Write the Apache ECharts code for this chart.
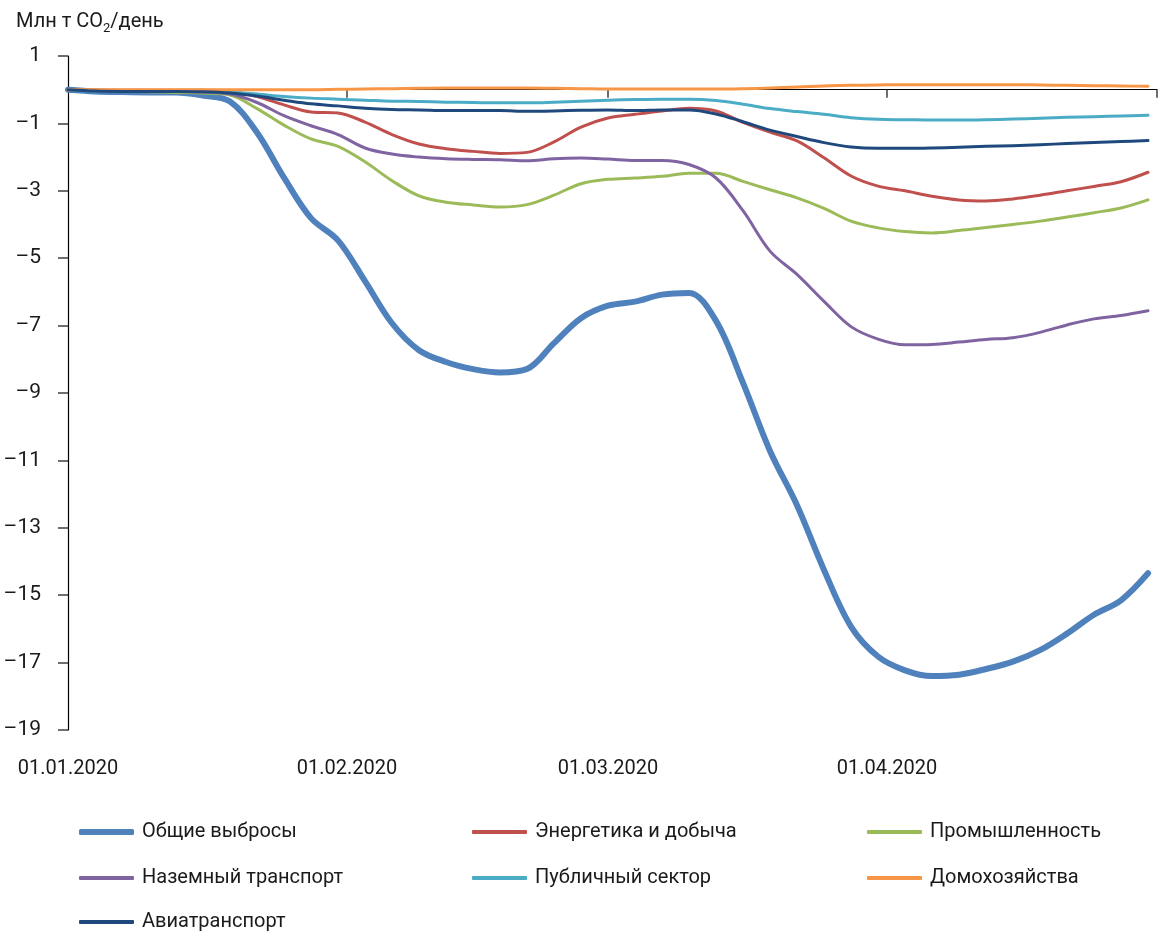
<!DOCTYPE html>
<html>
<head>
<meta charset="utf-8">
<script src="https://cdn.jsdelivr.net/npm/echarts@6/dist/echarts.min.js"></script>
<style>
  html, body { margin: 0; padding: 0; background: #fff; }
  #chart { width: 1161px; height: 933px; }
</style>
</head>
<body>
<div id="chart"></div>
<script>
// ---- Data (Mt CO2 per day, change vs. baseline) ----
const dates = [
  '2020-01-01','2020-01-04','2020-01-07','2020-01-10','2020-01-13','2020-01-16','2020-01-19',
  '2020-01-22','2020-01-25','2020-01-28','2020-01-31','2020-02-03','2020-02-06','2020-02-09',
  '2020-02-12','2020-02-15','2020-02-18','2020-02-21','2020-02-24','2020-02-27','2020-03-01',
  '2020-03-04','2020-03-07','2020-03-10','2020-03-13','2020-03-16','2020-03-19','2020-03-22',
  '2020-03-25','2020-03-28','2020-03-31','2020-04-03','2020-04-06','2020-04-09','2020-04-12',
  '2020-04-15','2020-04-18','2020-04-21','2020-04-24','2020-04-27','2020-04-30'
];
const seriesNames = ['Общие выбросы','Энергетика и добыча','Промышленность','Наземный транспорт','Публичный сектор','Домохозяйства','Авиатранспорт'];
const total = [0,-0.05,-0.07,-0.08,-0.08,-0.17,-0.35,-1.27,-2.61,-3.81,-4.47,-5.68,-6.93,-7.73,-8.08,-8.29,-8.39,-8.29,-7.52,-6.78,-6.41,-6.29,-6.08,-6.03,-6.86,-8.70,-10.72,-12.33,-14.25,-15.93,-16.82,-17.23,-17.40,-17.36,-17.19,-16.97,-16.63,-16.14,-15.58,-15.15,-14.35];
const energy = [0,-0.02,-0.02,-0.02,-0.02,-0.02,-0.05,-0.20,-0.45,-0.66,-0.69,-0.96,-1.33,-1.61,-1.75,-1.83,-1.89,-1.86,-1.55,-1.11,-0.84,-0.73,-0.63,-0.55,-0.63,-0.97,-1.26,-1.52,-2.02,-2.56,-2.86,-3.00,-3.16,-3.27,-3.30,-3.24,-3.13,-3.00,-2.87,-2.73,-2.45];
const industry = [0,-0.03,-0.05,-0.06,-0.08,-0.10,-0.16,-0.56,-1.05,-1.46,-1.68,-2.14,-2.70,-3.15,-3.34,-3.42,-3.48,-3.41,-3.13,-2.79,-2.66,-2.62,-2.57,-2.48,-2.48,-2.72,-2.97,-3.21,-3.52,-3.90,-4.10,-4.21,-4.25,-4.18,-4.09,-4.00,-3.90,-3.78,-3.65,-3.51,-3.27];
const ground = [0,-0.02,-0.03,-0.04,-0.05,-0.07,-0.13,-0.38,-0.77,-1.07,-1.33,-1.73,-1.91,-2.00,-2.05,-2.07,-2.08,-2.11,-2.05,-2.03,-2.06,-2.10,-2.10,-2.22,-2.62,-3.59,-4.79,-5.48,-6.28,-7.03,-7.40,-7.57,-7.56,-7.49,-7.41,-7.36,-7.20,-6.98,-6.80,-6.70,-6.56];
const publicSector = [0,-0.04,-0.04,-0.04,-0.04,-0.05,-0.07,-0.13,-0.20,-0.25,-0.28,-0.31,-0.34,-0.35,-0.37,-0.38,-0.39,-0.39,-0.37,-0.34,-0.31,-0.29,-0.28,-0.28,-0.32,-0.43,-0.56,-0.65,-0.73,-0.83,-0.88,-0.89,-0.90,-0.90,-0.89,-0.87,-0.85,-0.82,-0.80,-0.78,-0.76];
const households = [0,0,0,0,0,0,0,0,0,0,0.01,0.02,0.03,0.04,0.05,0.05,0.05,0.05,0.04,0.03,0.02,0.02,0.02,0.02,0.02,0.03,0.05,0.08,0.11,0.13,0.14,0.15,0.15,0.15,0.15,0.15,0.14,0.13,0.12,0.11,0.10];
const aviation = [0,-0.04,-0.05,-0.05,-0.05,-0.06,-0.10,-0.19,-0.31,-0.42,-0.48,-0.55,-0.59,-0.60,-0.62,-0.62,-0.62,-0.64,-0.63,-0.61,-0.60,-0.62,-0.60,-0.60,-0.72,-0.95,-1.20,-1.39,-1.57,-1.70,-1.74,-1.74,-1.73,-1.71,-1.68,-1.66,-1.63,-1.60,-1.57,-1.54,-1.51];

const xLabelDates = ['2020-01-01','2020-02-01','2020-03-01','2020-04-01'];
const xTickDates = ['2020-02-01','2020-03-01','2020-04-01','2020-05-01'];
const xMin = '2020-01-01', xMax = '2020-05-01';
const yTicks = [1,-1,-3,-5,-7,-9,-11,-13,-15,-17,-19];
const yTitle = 'Млн т CO{sub|2}/день';

// ---- Styles ----
const FONT = "Roboto,'Liberation Sans',sans-serif";
const FS = 20;
const TXT = '#1a1a1a';
const colors = ['#4F81BD','#C0504D','#9BBB59','#8064A2','#4BACC6','#F79646','#1F497D'];
const widths = [6,3,3,3,3,3,3];
const valuesList = [total, energy, industry, ground, publicSector, households, aviation];
const legendPos = [[79,821],[472,821],[867,821],[79,867],[472,867],[867,867],[79,911]];

// x scale = days since xMin (converted via Date, scaled by the value axis)
const DAY = 86400000;
function ts(s) { const p = s.split('-'); return Date.UTC(+p[0], +p[1]-1, +p[2]); }
function dayOf(s) { return Math.round((ts(s) - ts(xMin)) / DAY); }
function pad(n) { return (n < 10 ? '0' : '') + n; }
function fmtDay(v) { const d = new Date(ts(xMin) + v * DAY); return pad(d.getUTCDate()) + '.' + pad(d.getUTCMonth()+1) + '.' + d.getUTCFullYear(); }

const chart = echarts.init(document.getElementById('chart'), null, { renderer: 'canvas' });

const series = seriesNames.map((name, i) => ({
  name: name,
  type: 'line',
  xAxisIndex: 0,
  data: dates.map((d, k) => [dayOf(d), valuesList[i][k]]),
  smooth: 0.35,
  showSymbol: false,
  symbol: 'none',
  lineStyle: { color: colors[i], width: widths[i], cap: 'round', join: 'round' },
  itemStyle: { color: colors[i] },
  z: 2 + i
}));

const legends = seriesNames.map((name, i) => ({
  data: [name],
  left: legendPos[i][0],
  top: legendPos[i][1],
  orient: 'horizontal',
  padding: 0,
  itemGap: 0,
  itemWidth: 55,
  itemHeight: i === 0 ? 6 : 4,
  icon: 'roundRect',
  selectedMode: false,
  textStyle: { fontFamily: FONT, fontSize: FS, color: TXT, lineHeight: 22, padding: [0,0,0,3] }
}));

chart.setOption({
  animation: false,
  backgroundColor: '#fff',
  textStyle: { fontFamily: FONT },
  title: {
    text: yTitle,
    left: 16,
    top: 9,
    padding: 0,
    textStyle: {
      fontFamily: FONT, fontSize: FS, fontWeight: 'normal', color: TXT, lineHeight: 26,
      rich: { sub: { fontFamily: FONT, fontSize: 13, lineHeight: 13, verticalAlign: 'bottom', color: TXT } }
    }
  },
  legend: legends,
  grid: { left: 68, right: 4, top: 56, bottom: 203, containLabel: false },
  xAxis: [
    {
      type: 'value', position: 'bottom', min: 0, max: dayOf(xMax),
      axisLine: { show: false, onZero: false },
      axisTick: { show: false },
      splitLine: { show: false },
      axisLabel: {
        customValues: xLabelDates.map(dayOf),
        formatter: fmtDay,
        margin: 29, fontSize: FS, color: TXT, fontFamily: FONT,
        showMinLabel: true, hideOverlap: false
      }
    },
    {
      type: 'value', position: 'bottom', min: 0, max: dayOf(xMax),
      axisLine: { show: true, onZero: true, lineStyle: { color: '#000', width: 1.2 } },
      axisTick: { show: true, inside: false, length: 8, customValues: xTickDates.map(dayOf), lineStyle: { color: '#404040', width: 1.5 } },
      splitLine: { show: false },
      axisLabel: { show: false }
    }
  ],
  yAxis: {
    type: 'value', min: -19, max: 1,
    axisLine: { show: true, onZero: false, lineStyle: { color: '#000', width: 1.2 } },
    axisTick: { show: true, length: 10, customValues: yTicks, lineStyle: { color: '#404040', width: 1.5 } },
    axisLabel: {
      customValues: yTicks,
      formatter: v => (v < 0 ? '\u2013' + Math.abs(v) : String(v)),
      margin: 27, fontSize: FS + 1, color: TXT, fontFamily: FONT
    },
    splitLine: { show: false }
  },
  series: series
});
</script>
</body>
</html>
